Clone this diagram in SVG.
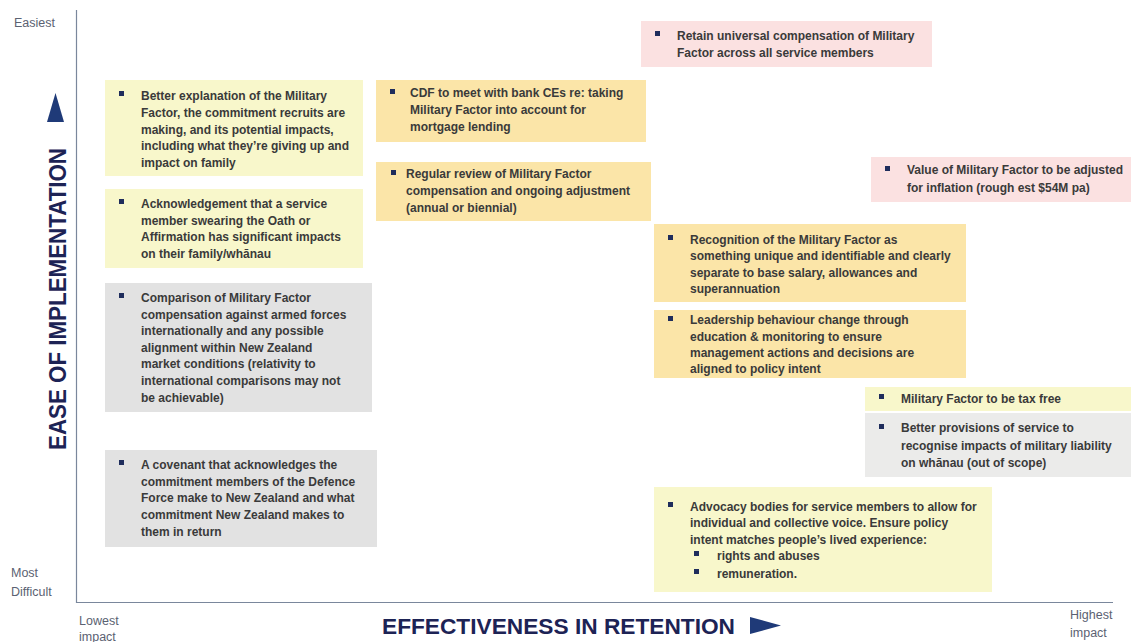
<svg xmlns="http://www.w3.org/2000/svg" width="1131" height="642" viewBox="0 0 1131 642">
  <style>
    .t { font-family: "Liberation Sans", Arial, sans-serif; font-weight: bold; font-size: 12px; fill: #3a3a3a; }
    .ax { font-family: "Liberation Sans", Arial, sans-serif; font-size: 12.5px; fill: #5b6272; }
    .title { font-family: "Liberation Sans", Arial, sans-serif; font-weight: bold; fill: #1d2355; }
    .yel { fill: #f8f7cb; }
    .org { fill: #fbe5a8; }
    .pink { fill: #fbe1e1; }
    .gray { fill: #e2e2e2; }
    .lgray { fill: #ebebea; }
    .b { fill: #1f2d5c; }
    .axis { stroke: #7a879c; stroke-width: 1.2; fill: none; }
  </style>
  <defs>
    <rect id="bul" width="5" height="5" class="b"/>
  </defs>
  <rect width="1131" height="642" fill="#ffffff"/>

  <!-- axes -->
  <g id="axes">
    <path class="axis" d="M76.5 10 V602.5 H1113"/>
    <text class="ax" x="14" y="27">Easiest</text>
    <text class="ax" x="11" y="577">Most</text>
    <text class="ax" x="11" y="596">Difficult</text>
    <text class="ax" x="79" y="625">Lowest</text>
    <text class="ax" x="79" y="641">impact</text>
    <text class="ax" x="1070" y="619">Highest</text>
    <text class="ax" x="1070" y="637">impact</text>
    <text class="title" font-size="23" transform="translate(66,450) rotate(-90)" textLength="302" lengthAdjust="spacingAndGlyphs">EASE OF IMPLEMENTATION</text>
    <polygon points="47,122 64,122 55.5,93" fill="#1f3a78"/>
    <text class="title" font-size="22" x="382" y="634" textLength="353" lengthAdjust="spacingAndGlyphs">EFFECTIVENESS  IN RETENTION</text>
    <polygon points="750,617 750,634 781,625.5" fill="#1f3a78"/>
  </g>

  <!-- items -->
  <g id="retain-universal">
    <rect class="pink" x="641" y="21" width="291" height="46"/>
    <use href="#bul" x="655" y="31"/>
    <text class="t" x="677" y="40">Retain universal compensation of Military</text>
    <text class="t" x="677" y="57">Factor across all service members</text>
  </g>

  <g id="better-explanation">
    <rect class="yel" x="105" y="80" width="258" height="96"/>
    <use href="#bul" x="119" y="91"/>
    <text class="t" x="141" y="100">Better explanation of the Military</text>
    <text class="t" x="141" y="117">Factor, the commitment recruits are</text>
    <text class="t" x="141" y="134">making, and its potential impacts,</text>
    <text class="t" x="141" y="150">including what they’re giving up and</text>
    <text class="t" x="141" y="167">impact on family</text>
  </g>

  <g id="cdf-bank">
    <rect class="org" x="376" y="80" width="270" height="62"/>
    <use href="#bul" x="390" y="89"/>
    <text class="t" x="410" y="97">CDF to meet with bank CEs re: taking</text>
    <text class="t" x="410" y="114">Military Factor into account for</text>
    <text class="t" x="410" y="131">mortgage lending</text>
  </g>

  <g id="regular-review">
    <rect class="org" x="376" y="162" width="275" height="59"/>
    <use href="#bul" x="391" y="170"/>
    <text class="t" x="406" y="178">Regular review of Military Factor</text>
    <text class="t" x="406" y="195">compensation and ongoing adjustment</text>
    <text class="t" x="406" y="212">(annual or biennial)</text>
  </g>

  <g id="value-inflation">
    <rect class="pink" x="871" y="157" width="260" height="45"/>
    <use href="#bul" x="885" y="166"/>
    <text class="t" x="907" y="174">Value of Military Factor to be adjusted</text>
    <text class="t" x="907" y="192">for inflation (rough est $54M pa)</text>
  </g>

  <g id="acknowledgement">
    <rect class="yel" x="105" y="189" width="258" height="79"/>
    <use href="#bul" x="119" y="199"/>
    <text class="t" x="141" y="208">Acknowledgement that a service</text>
    <text class="t" x="141" y="225">member swearing the Oath or</text>
    <text class="t" x="141" y="241">Affirmation has significant impacts</text>
    <text class="t" x="141" y="258">on their family/whānau</text>
  </g>

  <g id="recognition">
    <rect class="org" x="654" y="224" width="312" height="78"/>
    <use href="#bul" x="668" y="235"/>
    <text class="t" x="690" y="244">Recognition of the Military Factor as</text>
    <text class="t" x="690" y="260">something unique and identifiable and clearly</text>
    <text class="t" x="690" y="277">separate to base salary, allowances and</text>
    <text class="t" x="690" y="293">superannuation</text>
  </g>

  <g id="comparison">
    <rect class="gray" x="105" y="283" width="267" height="129"/>
    <use href="#bul" x="119" y="293"/>
    <text class="t" x="141" y="302">Comparison of Military Factor</text>
    <text class="t" x="141" y="319">compensation against armed forces</text>
    <text class="t" x="141" y="335">internationally and any possible</text>
    <text class="t" x="141" y="352">alignment within New Zealand</text>
    <text class="t" x="141" y="368">market conditions (relativity to</text>
    <text class="t" x="141" y="385">international comparisons may not</text>
    <text class="t" x="141" y="402">be achievable)</text>
  </g>

  <g id="leadership">
    <rect class="org" x="654" y="310" width="312" height="68"/>
    <use href="#bul" x="668" y="316"/>
    <text class="t" x="690" y="324">Leadership behaviour change through</text>
    <text class="t" x="690" y="341">education &amp; monitoring to ensure</text>
    <text class="t" x="690" y="357">management actions and decisions are</text>
    <text class="t" x="690" y="373">aligned to policy intent</text>
  </g>

  <g id="tax-free">
    <rect class="yel" x="865" y="387" width="266" height="24"/>
    <use href="#bul" x="879" y="394"/>
    <text class="t" x="901" y="403">Military Factor to be tax free</text>
  </g>

  <g id="better-provisions">
    <rect class="lgray" x="865" y="413" width="266" height="64"/>
    <use href="#bul" x="879" y="424"/>
    <text class="t" x="901" y="432">Better provisions of service to</text>
    <text class="t" x="901" y="450">recognise impacts of military liability</text>
    <text class="t" x="901" y="467">on whānau (out of scope)</text>
  </g>

  <g id="covenant">
    <rect class="gray" x="105" y="450" width="272" height="97"/>
    <use href="#bul" x="119" y="460"/>
    <text class="t" x="141" y="469">A covenant that acknowledges the</text>
    <text class="t" x="141" y="486">commitment members of the Defence</text>
    <text class="t" x="141" y="502">Force make to New Zealand and what</text>
    <text class="t" x="141" y="519">commitment New Zealand makes to</text>
    <text class="t" x="141" y="536">them in return</text>
  </g>

  <g id="advocacy">
    <rect class="yel" x="654" y="487" width="338" height="105"/>
    <use href="#bul" x="668" y="502"/>
    <text class="t" x="690" y="511">Advocacy bodies for service members to allow for</text>
    <text class="t" x="690" y="527">individual and collective voice. Ensure policy</text>
    <text class="t" x="690" y="544">intent matches people’s lived experience:</text>
    <use href="#bul" x="694" y="551"/>
    <text class="t" x="717" y="560">rights and abuses</text>
    <use href="#bul" x="694" y="569"/>
    <text class="t" x="717" y="578">remuneration.</text>
  </g>
</svg>
